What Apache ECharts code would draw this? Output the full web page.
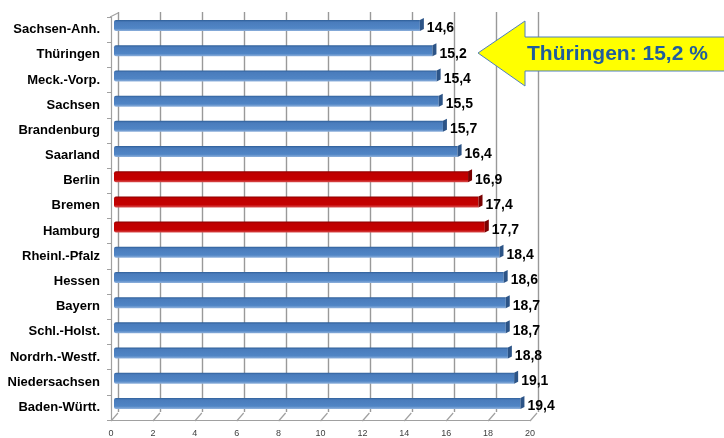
<!DOCTYPE html>
<html><head><meta charset="utf-8">
<script src="https://cdn.jsdelivr.net/npm/echarts@6/dist/echarts.min.js"></script>
<style>html,body{margin:0;padding:0;background:#fff}#c{width:724px;height:438px}</style>
</head><body><div id="c"></div>
<script>
// Quoten je Bundesland (in %), von oben nach unten
const states = ['Sachsen-Anh.','Thüringen','Meck.-Vorp.','Sachsen','Brandenburg','Saarland','Berlin','Bremen','Hamburg','Rheinl.-Pfalz','Hessen','Bayern','Schl.-Holst.','Nordrh.-Westf.','Niedersachsen','Baden-Württ.'];
const rates = [14.6,15.2,15.4,15.5,15.7,16.4,16.9,17.4,17.7,18.4,18.6,18.7,18.7,18.8,19.1,19.4];
const cityStates = ['Berlin','Bremen','Hamburg'];
const xTicks = [0,2,4,6,8,10,12,14,16,18,20];
const calloutText = 'Thüringen: 15,2 %';

const FONT = '"Liberation Sans", Arial, sans-serif';
const fmt = v => v.toFixed(1).replace('.', ',');

function grad(c0, c1, c2, c3) {
  return new echarts.graphic.LinearGradient(0, 0, 0, 1, [
    { offset: 0, color: c0 }, { offset: 0.18, color: c1 },
    { offset: 0.75, color: c2 }, { offset: 1, color: c3 }
  ]);
}

function renderBar(params, api) {
  const v = api.value(0), idx = api.value(1);
  const p0 = api.coord([0, idx]);
  const p1 = api.coord([v, idx]);
  const dx = 3, dy = -4, h = 11, depth = 4;
  const x0 = p0[0] + dx, x1 = p1[0] + dx, yc = p0[1] + dy, top = yc - h / 2;
  const red = cityStates.indexOf(states[idx]) >= 0;
  const face = red ? grad('#8a0000', '#bf0000', '#c40000', '#d85050')
                   : grad('#2f5f98', '#4a7cbc', '#5085c5', '#8fb1dc');
  const side = red ? '#7a0000' : '#2c5487';
  return { type: 'group', children: [
    { type: 'rect', shape: { x: x0, y: top, width: x1 - x0, height: h, r: [2, 0, 0, 2] }, style: { fill: face } },
    { type: 'polygon', shape: { points: [[x1, top], [x1 + depth, top - 2], [x1 + depth, top + h - 2], [x1, top + h]] }, style: { fill: side } },
    { type: 'text', style: { text: fmt(v), x: x1 + depth + 3, y: yc + 3, verticalAlign: 'middle', font: 'bold 14px ' + FONT, fill: '#000' } }
  ]};
}

// Boden- und Eckkanten der 3D-Wand
function renderFloor(params, api) {
  const v = api.value(0);
  const cs = params.coordSys;
  const bottom = cs.y + cs.height + 1;
  const p = api.coord([v, 0]);
  const children = [
    { type: 'line', shape: { x1: p[0], y1: bottom, x2: p[0] + 7, y2: bottom - 8 }, style: { stroke: '#a0a0a0', lineWidth: 1.2 } }
  ];
  if (v === 0) {
    children.push({ type: 'line', shape: { x1: p[0] - 1, y1: cs.y, x2: p[0] + 7, y2: cs.y - 4 }, style: { stroke: '#a0a0a0', lineWidth: 1.2 } });
  }
  return { type: 'group', children };
}

const chart = echarts.init(document.getElementById('c'), null, { renderer: 'canvas' });
chart.setOption({
  animation: false,
  backgroundColor: '#fff',
  grid: [
    { left: 111, right: 194, top: 17, bottom: 18 },
    { left: 118, right: 186, top: 12, bottom: 26 }
  ],
  xAxis: [
    { gridIndex: 0, type: 'value', min: 0, max: 20, interval: 2,
      axisLine: { show: true, lineStyle: { color: '#a0a0a0', width: 1.2 } },
      axisTick: { show: false }, splitLine: { show: false },
      axisLabel: { color: '#404040', fontSize: 9, fontFamily: FONT, margin: 9 } },
    { gridIndex: 1, type: 'value', min: 0, max: 20, interval: 2,
      axisLine: { show: false }, axisTick: { show: false }, axisLabel: { show: false },
      splitLine: { show: true, lineStyle: { color: '#999999', width: 1.4 } } }
  ],
  yAxis: [
    { gridIndex: 0, type: 'category', data: states, inverse: true,
      axisLine: { show: true, lineStyle: { color: '#a0a0a0', width: 1.2 } },
      axisTick: { show: true, length: 4, lineStyle: { color: '#a0a0a0' } },
      axisLabel: { color: '#000', fontWeight: 'bold', fontSize: 13, fontFamily: FONT, margin: 11 } },
    { gridIndex: 1, type: 'category', data: states, inverse: true, show: false }
  ],
  series: [
    { type: 'custom', xAxisIndex: 0, yAxisIndex: 0, renderItem: renderFloor,
      data: xTicks.map(t => [t]), encode: { x: 0 }, z: 1, silent: true },
    { type: 'custom', xAxisIndex: 0, yAxisIndex: 0, renderItem: renderBar,
      data: rates.map((v, i) => [v, i]), encode: { x: 0, y: 1 }, z: 5 }
  ],
  graphic: [
    { type: 'polygon', z: 100,
      shape: { points: [[478, 53], [525, 21], [525, 37], [730, 37], [730, 71], [525, 71], [525, 86]] },
      style: { fill: '#ffff00', stroke: '#4f7fbf', lineWidth: 1 } },
    { type: 'text', z: 101, x: 527, y: 54,
      style: { text: calloutText, font: 'bold 21px ' + FONT, fill: '#1f5d9c', verticalAlign: 'middle' } }
  ]
});
</script>
</body></html>
